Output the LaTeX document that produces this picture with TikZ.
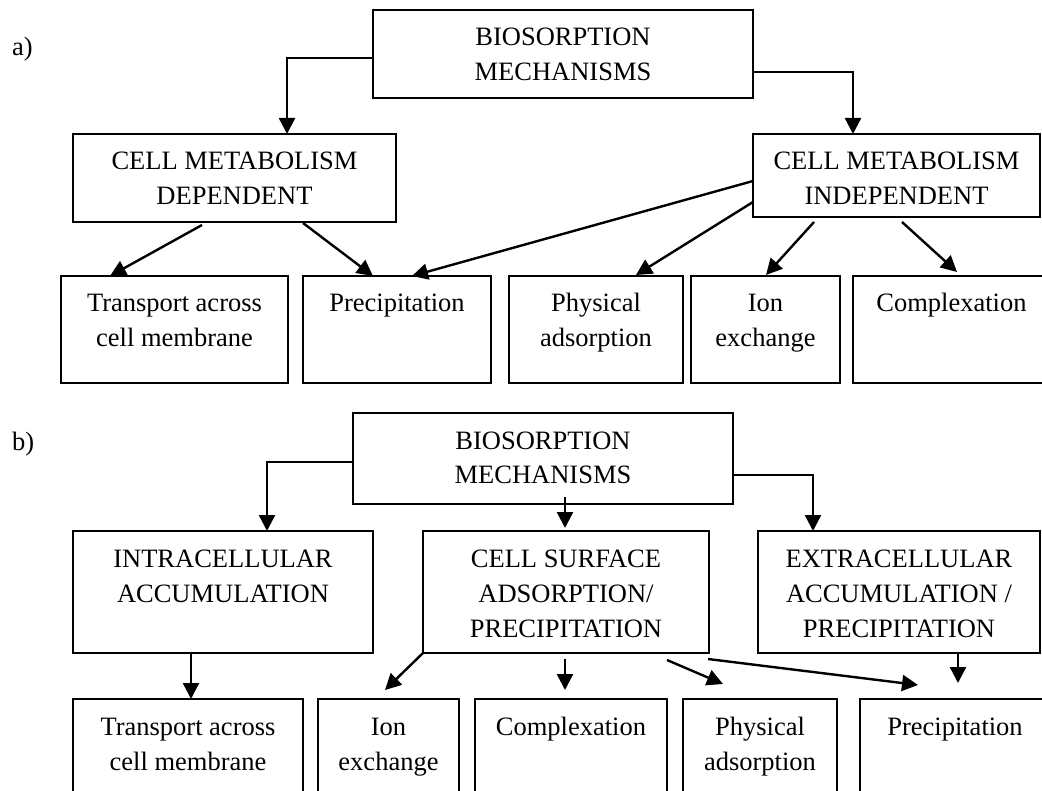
\documentclass[tikz,border=0pt]{standalone}
\usepackage{fontspec}
\setmainfont{Liberation Serif}
\usetikzlibrary{arrows.meta}
\tikzset{
  bx/.style={draw, line width=1.8pt, inner sep=0pt, outer sep=0pt, anchor=north west,
    font=\fontsize{26.5}{35}\selectfont},
  lbl/.style={inner sep=0pt, anchor=base west, font=\fontsize{26.5}{35}\selectfont},
  arr/.style={line width=2.4pt, -{Triangle[length=16pt,width=16pt]}}
}
\newcommand{\mybox}[6]{\node[bx] (#1) at (#2,#3)
  {\parbox[c][\dimexpr #5pt-#3pt\relax][t]{\dimexpr #4pt-#2pt\relax}{\centering\vspace*{11.5pt}\strut #6}};}
\begin{document}
\begin{tikzpicture}[x=1pt,y=-1pt]
\useasboundingbox (0,0) rectangle (1042,791);
\clip (0,0) rectangle (1042,791);
\fill[white] (0,0) rectangle (1042,791);
% ---- part a ----
\node[lbl] (la) at (12,56) {a)};
\mybox{A0}{373}{10}{753}{98}{BIOSORPTION\\MECHANISMS}
\mybox{A1}{73}{134}{396}{222}{CELL METABOLISM\\DEPENDENT}
\mybox{A2}{753}{134}{1040}{217}{CELL METABOLISM\\INDEPENDENT}
\mybox{T1}{61}{276}{288}{383}{Transport across\\cell membrane}
\mybox{P1}{303}{276}{491}{383}{Precipitation}
\mybox{Ph1}{509}{276}{683}{383}{Physical\\adsorption}
\mybox{I1}{691}{276}{840}{383}{Ion\\exchange}
\mybox{C1}{853}{276}{1050}{383}{Complexation}
\draw[arr] ([shift={(0,4)}]A0.west) -| ([shift={(52.5,0)}]A1.north);
\draw[arr] ([shift={(0,18)}]A0.east) -| ([shift={(-43.5,0)}]A2.north);
\draw[arr] ([shift={(-32.5,3)}]A1.south) -- ([shift={(-64.5,0)}]T1.north);
\draw[arr] ([shift={(68.5,1)}]A1.south) -- ([shift={(-24,0)}]P1.north);
\draw[arr] ([shift={(0,5.5)}]A2.west) -- ([shift={(15,0)}]P1.north);
\draw[arr] ([shift={(0,26.5)}]A2.west) -- ([shift={(40,-1)}]Ph1.north);
\draw[arr] ([shift={(-82.5,5)}]A2.south) -- ([shift={(0.5,-1)}]I1.north);
\draw[arr] ([shift={(5.5,5)}]A2.south) -- ([shift={(5.5,-4)}]C1.north);
% ---- part b ----
\node[lbl] (lb) at (12,451) {b)};
\mybox{B0}{353}{413}{733}{504}{BIOSORPTION\\MECHANISMS}
\mybox{B1}{73}{531}{373}{653}{INTRACELLULAR\\ACCUMULATION}
\mybox{B2}{423}{531}{709}{653}{CELL SURFACE\\ADSORPTION/\\PRECIPITATION}
\mybox{B3}{758}{531}{1040}{653}{EXTRACELLULAR\\ACCUMULATION /\\PRECIPITATION}
\mybox{T2}{73}{699}{303}{800}{Transport across\\cell membrane}
\mybox{I2}{318}{699}{459}{800}{Ion\\exchange}
\mybox{C2}{475}{699}{667}{800}{Complexation}
\mybox{Ph2}{683}{699}{837}{800}{Physical\\adsorption}
\mybox{Pr2}{860}{699}{1050}{800}{Precipitation}
\draw[arr] ([shift={(0,3.5)}]B0.west) -| ([shift={(44,0)}]B1.north);
\draw[arr] ([shift={(0,16.5)}]B0.east) -| ([shift={(-86,0)}]B3.north);
\draw[arr] ([shift={(22,-7)}]B0.south) -- ([shift={(-1,-3)}]B2.north);
\draw[arr] ([shift={(-32,0)}]B1.south) -- ([shift={(3,0)}]T2.north);
\draw[arr] (B2.south west) -- ([shift={(-3.5,-9)}]I2.north);
\draw[arr] ([shift={(-1,6)}]B2.south) -- ([shift={(-6,-9)}]C2.north);
\draw[arr] ([shift={(101,7)}]B2.south) -- ([shift={(-37,-15)}]Ph2.north);
\draw[arr] ([shift={(142,6)}]B2.south) -- ([shift={(-37,-14)}]Pr2.north);
\draw[arr] ([shift={(59,0)}]B3.south) -- ([shift={(3,-16)}]Pr2.north);
\end{tikzpicture}
\end{document}
